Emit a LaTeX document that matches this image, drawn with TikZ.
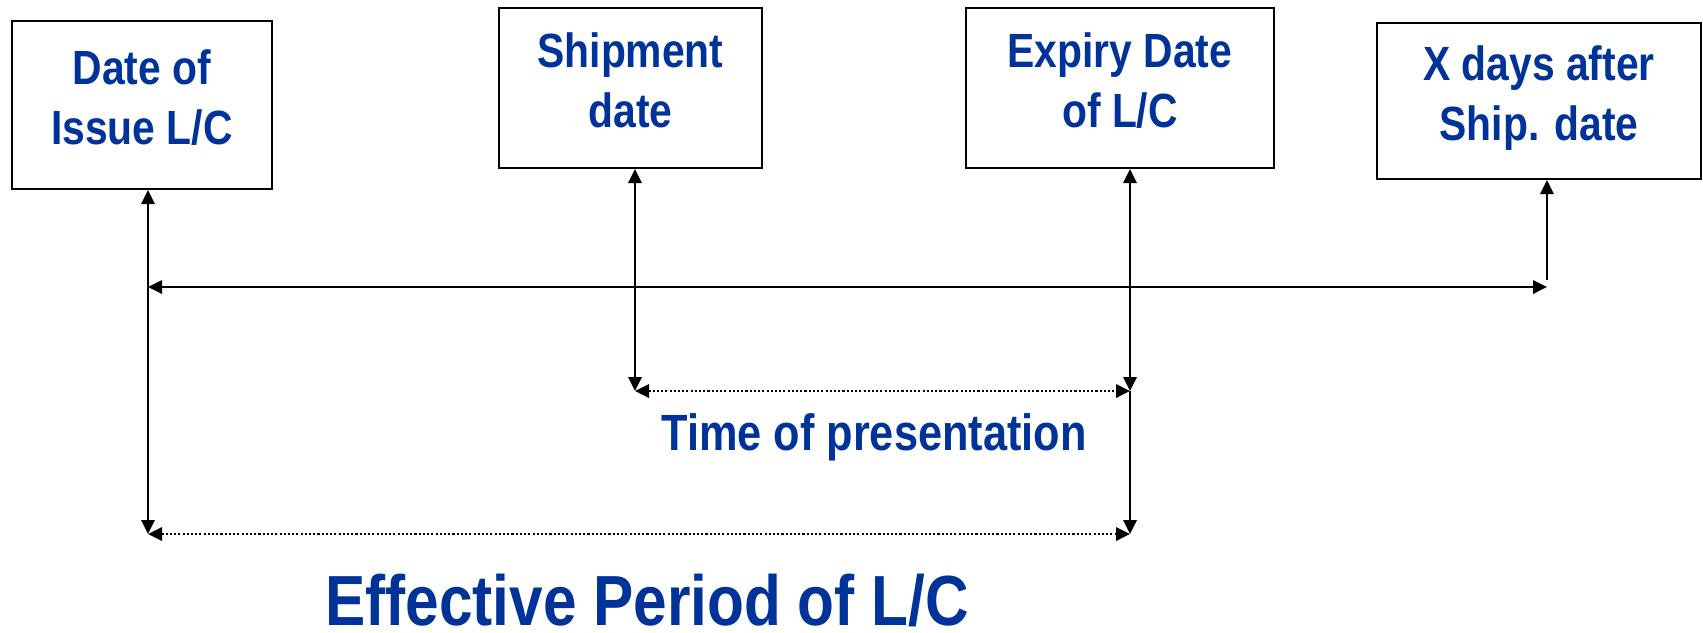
\documentclass[tikz,border=0pt]{standalone}
\usepackage{fontspec}
\setmainfont{Liberation Sans}[FakeStretch=0.85]
\usetikzlibrary{arrows.meta}
\definecolor{lcblue}{RGB}{0,51,153}

\begin{document}
\begin{tikzpicture}[x=0.3mm,y=-0.3mm]
\tikzset{
  datebox/.style={draw,line width=1.8pt,align=center,inner sep=0pt,text=lcblue,
    font=\fontsize{41}{51}\selectfont\bfseries,text depth=13pt},
  caption/.style={anchor=base,inner sep=0pt,text=lcblue},
  tip/.style={-{Triangle[length=4.2mm,width=4mm]},line width=2pt},
  bothtips/.style={{Triangle[length=4.2mm,width=4mm]}-{Triangle[length=4.2mm,width=4mm]},line width=2pt},
  period/.style={bothtips,dash pattern=on 1.8pt off 1.8pt}
}
\useasboundingbox (0,0) rectangle (1703,632);

% the four dates
\node[datebox,minimum width=78mm,minimum height=50.4mm] (issue) at (142,105) {Date of\\Issue L/C};
\node[datebox,minimum width=78.9mm,minimum height=48mm] (ship) at (630.5,88) {Shipment\\date};
\node[datebox,minimum width=92.4mm,minimum height=48mm] (expiry) at (1120,88) {Expiry Date\\of L/C};
\node[datebox,minimum width=97.2mm,minimum height=46.8mm] (xdays) at (1539,101) {X days after\\Ship. date};

% ends of the time lines
\coordinate (lineL) at (148,287);
\coordinate (lineR) at (1547,287);
\coordinate (xdaysFoot) at (1547,280);
\coordinate (shipEnd) at (635,391);
\coordinate (presEnd) at (1130,391);
\coordinate (issueEnd) at (148,534);
\coordinate (expiryEnd) at (1130,534);

% time axis
\draw[bothtips] (lineL) -- (lineR);
\draw[tip] (xdaysFoot) -- (xdays.south -| xdaysFoot);
\draw[bothtips] (issue.south -| issueEnd) -- (issueEnd);
\draw[bothtips] (ship.south -| shipEnd) -- (shipEnd);
\draw[bothtips] (expiry.south -| presEnd) -- (presEnd);
\draw[tip] (presEnd) -- (expiryEnd);

% periods
\draw[period] (shipEnd) -- (presEnd);
\draw[period] (issueEnd) -- (expiryEnd);

\node[caption,font=\fontsize{43.5}{52}\selectfont\bfseries] (presentation) at (874,450) {Time of presentation};
\node[caption,font=\fontsize{60.6}{72}\selectfont\bfseries] (effective) at (647,625) {Effective Period of L/C};
\end{tikzpicture}
\end{document}
